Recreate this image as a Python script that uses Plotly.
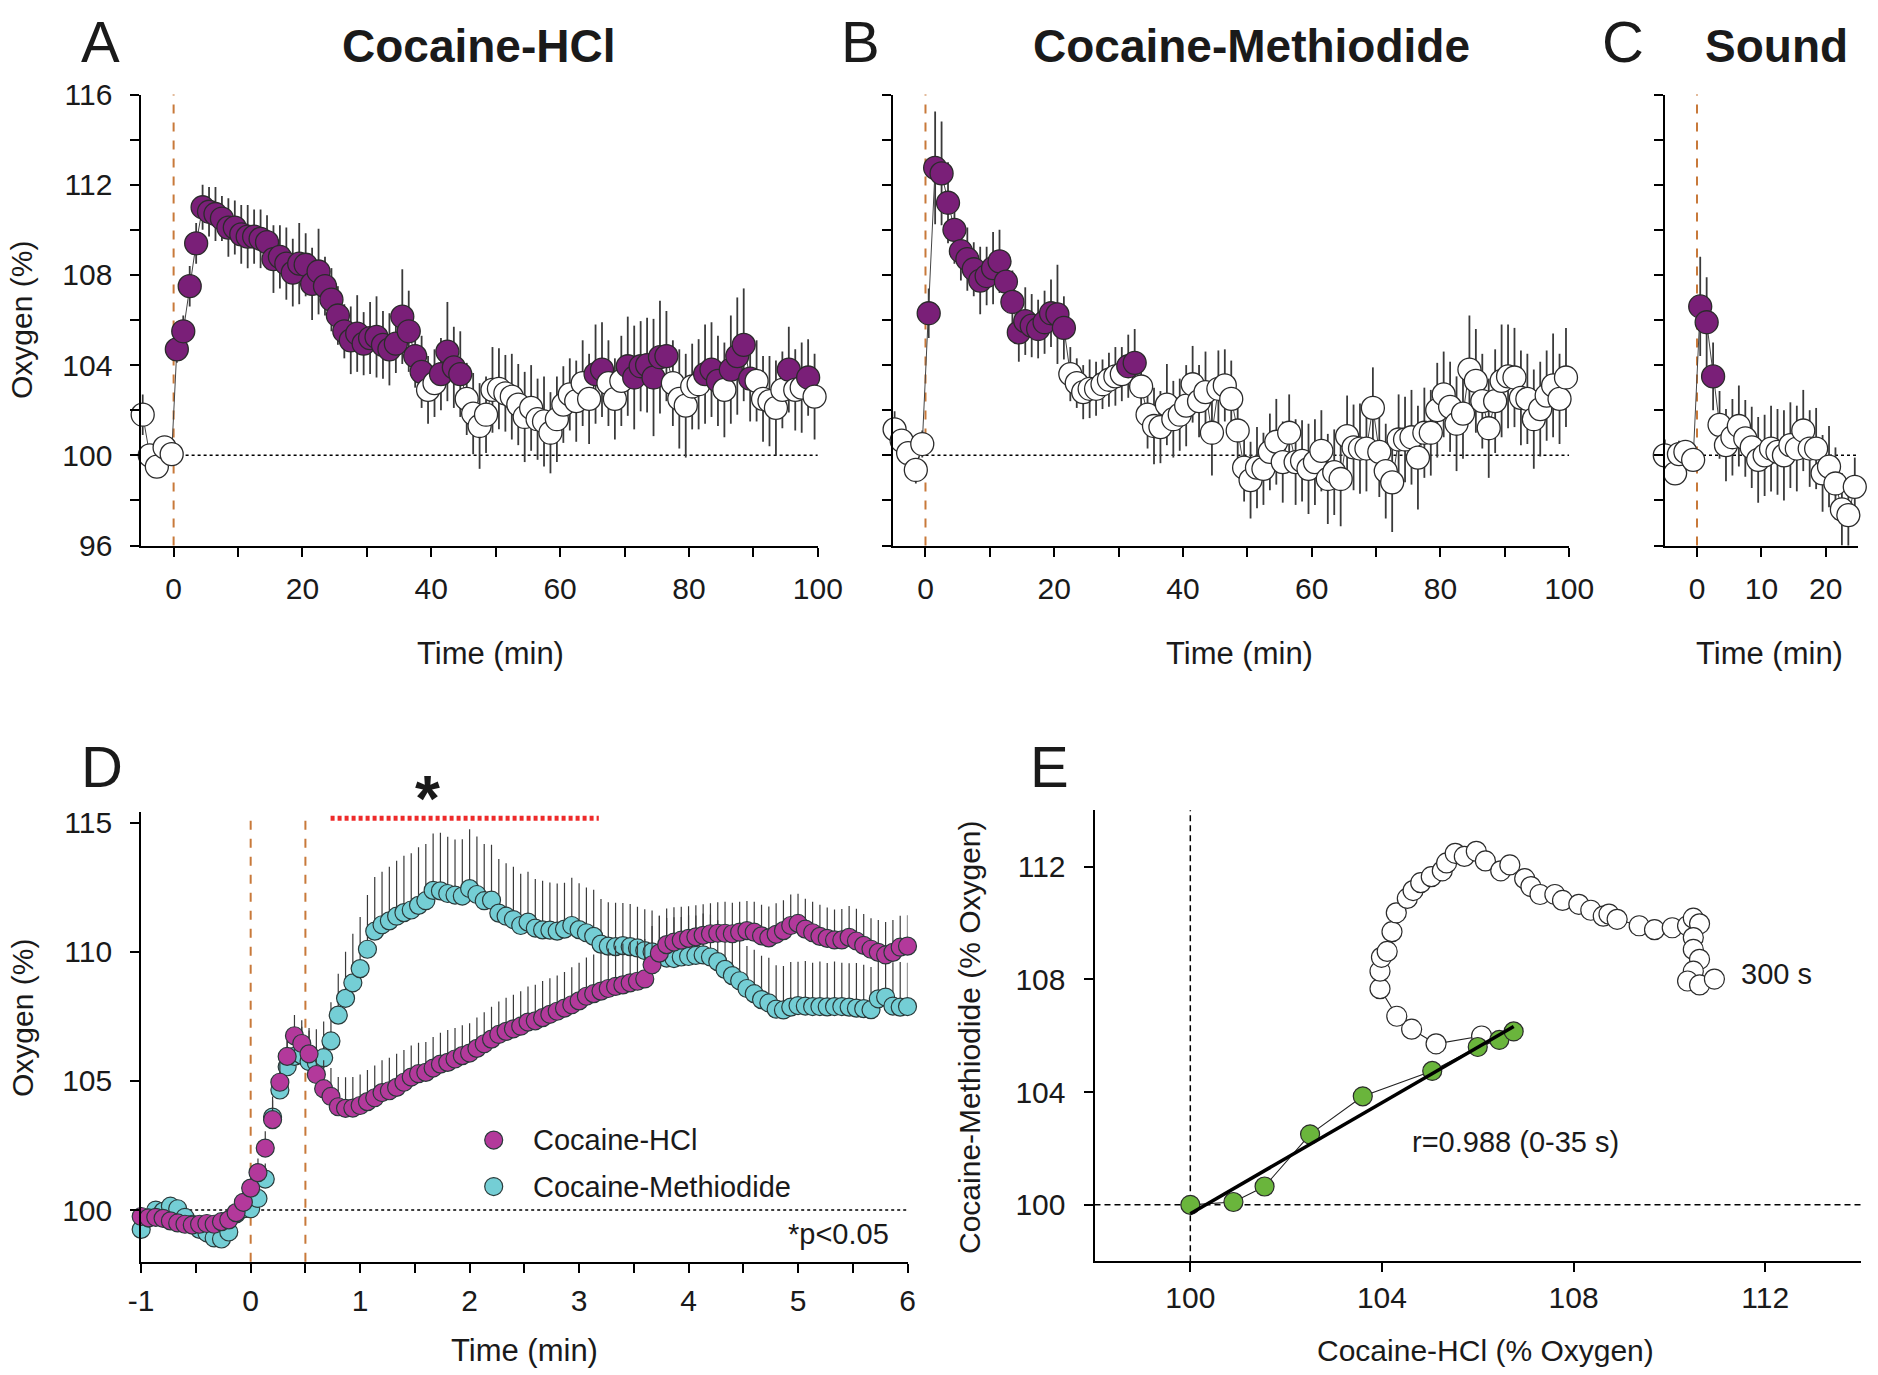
import plotly.graph_objects as go
import numpy as np

W, H = 1878, 1375
FONT = "Liberation Sans, Arial, Helvetica, sans-serif"
TXT = "#1a1a1a"

# ---------------- Panel A : Cocaine-HCl ----------------
A_TIME_PRE = [-4.8, -3.7, -2.6, -1.4, -0.3]
A_VAL_PRE = [101.8, 100.0, 99.5, 100.35, 100.05]
A_ERR_PRE = [0.9, 0.5, 0.5, 0.5, 0.4]
A_TIME_POST = [k + 0.5 for k in range(100)]
A_VAL_POST = [
    104.7, 105.5, 107.5, 109.4, 111.0, 110.8, 110.7, 110.5, 110.1, 110.1,
    109.8, 109.7, 109.7, 109.6, 109.45, 108.7, 108.8, 108.5, 108.1, 108.5,
    108.45, 107.6, 108.15, 107.5, 106.9, 106.2, 105.5, 105.1, 105.4, 104.95,
    105.2, 105.25, 104.9, 104.7, 104.95, 106.15, 105.5, 104.4, 103.7, 102.9,
    103.2, 103.6, 104.6, 103.9, 103.6, 102.5, 101.85, 101.3, 101.8, 102.9,
    102.95, 102.75, 102.6, 102.25, 101.7, 102.1, 101.6, 101.5, 101.0, 101.6,
    102.25, 102.7, 102.4, 103.2, 102.5, 103.6, 103.8, 103.2, 102.5, 103.3,
    103.95, 103.45, 103.95, 104.0, 103.45, 104.35, 104.4, 103.2, 102.5, 102.2,
    103.05, 103.15, 103.6, 103.8, 103.3, 102.9, 103.8, 104.4, 104.9, 103.4,
    103.3, 102.5, 102.4, 102.1, 102.9, 103.8, 102.9, 103.0, 103.45, 102.6]
A_ERR_POST = [
    0.6, 0.7, 0.9, 0.9, 1.0, 1.1, 1.2, 1.0, 1.3, 1.2,
    1.3, 1.4, 1.2, 1.3, 1.2, 1.5, 1.4, 1.6, 1.5, 1.8,
    1.4, 1.6, 1.9, 1.3, 1.4, 1.3, 1.2, 1.5, 1.7, 1.4,
    1.6, 1.8, 1.5, 1.6, 1.3, 2.1, 1.8, 1.4, 1.6, 1.5,
    1.5, 1.6, 2.2, 1.8, 1.9, 1.6, 1.8, 1.9, 1.7, 1.9,
    1.8, 1.7, 1.9, 1.8, 2.0, 1.9, 1.8, 2.0, 1.8, 1.9,
    1.7, 1.6, 1.8, 1.9, 2.0, 2.2, 2.1, 1.9, 1.8, 2.0,
    2.2, 2.3, 2.0, 2.1, 2.6, 2.5, 2.0, 1.9, 2.2, 2.3,
    1.9, 2.0, 2.2, 2.1, 2.0, 2.1, 2.4, 2.6, 2.5, 1.9,
    1.8, 1.9, 2.0, 2.1, 1.7, 1.9, 1.8, 2.0, 1.7, 1.9]
# 1 = significant (filled purple), 0 = not significant (open)
A_SIG_POST = (
    [1] * 39 + [0] * 2 + [1] * 4 + [0] * 20 + [1] * 2 + [0] * 3 + [1] * 7 +
    [0] * 5 + [1] * 3 + [0] + [1] * 4 + [0] * 5 + [1] + [0] * 2 + [1] + [0])

# ---------------- Panel B : Cocaine-Methiodide ----------------
B_TIME_PRE = [-4.8, -3.7, -2.7, -1.5, -0.5]
B_VAL_PRE = [101.15, 100.65, 100.1, 99.35, 100.5]
B_ERR_PRE = [0.8, 0.6, 0.6, 0.6, 0.6]
B_TIME_POST = [k + 0.5 for k in range(100)]
B_VAL_POST = [
    106.3, 112.75, 112.5, 111.2, 110.0, 109.05, 108.7, 108.25, 107.75, 107.95,
    108.3, 108.6, 107.7, 106.8, 105.45, 105.95, 105.75, 105.6, 105.9, 106.3,
    106.25, 105.65, 103.6, 103.2, 102.8, 102.95, 102.95, 103.15, 103.35, 103.5,
    103.6, 103.95, 104.1, 103.05, 101.8, 101.3, 101.25, 102.25, 101.6, 101.8,
    102.2, 103.15, 102.4, 102.8, 101.0, 102.95, 103.1, 102.5, 101.1, 99.45,
    98.9, 99.45, 99.4, 100.15, 100.6, 99.7, 101.0, 99.7, 99.75, 99.4,
    99.7, 100.2, 98.95, 99.25, 98.95, 100.85, 100.35, 100.3, 100.3, 102.1,
    100.15, 99.3, 98.8, 100.7, 100.7, 100.8, 99.9, 101.0, 101.0, 102.0,
    102.7, 102.15, 101.4, 101.85, 103.8, 103.3, 102.4, 101.2, 102.4, 103.3,
    103.5, 103.45, 102.55, 102.5, 101.6, 102.05, 102.65, 103.1, 102.5, 103.45]
B_ERR_POST = [
    1.1, 2.5, 2.3, 1.8, 1.5, 1.3, 1.4, 1.2, 1.5, 1.3,
    1.6, 1.4, 1.3, 1.4, 1.3, 1.5, 1.4, 1.3, 1.4, 1.5,
    2.2, 1.4, 1.2, 1.1, 1.2, 1.3, 1.2, 1.1, 1.2, 1.3,
    1.2, 1.4, 1.5, 1.4, 1.5, 1.7, 1.6, 1.8, 1.7, 1.6,
    1.8, 1.7, 1.6, 1.8, 1.9, 1.7, 1.6, 1.7, 1.6, 1.5,
    1.7, 1.8, 1.6, 1.7, 1.9, 1.8, 1.7, 1.9, 1.8, 2.0,
    1.9, 1.8, 2.0, 1.9, 2.1, 1.8, 1.9, 2.0, 1.9, 1.8,
    2.0, 2.1, 2.2, 2.0, 1.9, 2.1, 2.3, 2.0, 1.9, 2.1,
    1.9, 2.0, 2.1, 2.0, 2.4, 2.3, 2.1, 2.2, 2.3, 2.5,
    2.3, 2.2, 2.1, 2.0, 2.2, 2.1, 2.0, 2.3, 2.0, 2.2]
B_SIG_POST = [1] * 22 + [0] * 9 + [1] * 2 + [0] * 67

# ---------------- Panel C : Sound ----------------
C_TIME_PRE = [-5.0, -3.4, -2.8, -1.8, -0.6]
C_VAL_PRE = [100.0, 99.2, 100.05, 100.15, 99.8]
C_ERR_PRE = [0.7, 0.5, 0.6, 0.5, 0.5]
C_TIME_POST = [k + 0.5 for k in range(25)]
C_VAL_POST = [106.6, 105.9, 103.5, 101.35, 100.45, 100.8, 101.3, 100.75, 100.35, 99.8,
              100.0, 100.3, 100.15, 100.0, 100.45, 100.3, 101.1, 100.3, 100.3, 99.2,
              99.5, 98.75, 97.6, 97.35, 98.6]
C_ERR_POST = [2.2, 2.0, 1.5, 1.5, 1.6, 1.7, 1.8, 1.7, 1.8, 1.9,
              1.8, 1.9, 1.9, 2.0, 1.9, 1.9, 1.8, 1.7, 1.8, 1.7,
              1.8, 1.6, 1.6, 1.6, 1.3]
C_SIG_POST = [1] * 3 + [0] * 22

# ---------------- Panel D : 4-s bins, -1 .. 6 min ----------------
D_TIME = [round(-1 + k / 15, 4) for k in range(106)]
D_HCL = [
    99.75, 99.70, 99.72, 99.68, 99.58, 99.50, 99.45, 99.42, 99.45, 99.48,
    99.45, 99.55, 99.62, 99.90, 100.30, 100.85, 101.45, 102.40, 103.50, 104.95,
    105.95, 106.75, 106.45, 106.05, 105.25, 104.70, 104.40, 104.00, 103.94, 103.95,
    104.05, 104.20, 104.35, 104.55, 104.62, 104.75, 104.95, 105.15, 105.28, 105.33,
    105.50, 105.65, 105.72, 105.85, 105.98, 106.08, 106.26, 106.44, 106.62, 106.80,
    106.92, 107.02, 107.12, 107.28, 107.33, 107.45, 107.58, 107.70, 107.82, 107.95,
    108.10, 108.28, 108.38, 108.48, 108.58, 108.66, 108.72, 108.80, 108.86, 108.95,
    109.50, 109.95, 110.28, 110.38, 110.45, 110.52, 110.58, 110.64, 110.70, 110.72,
    110.72, 110.70, 110.76, 110.82, 110.76, 110.62, 110.54, 110.68, 110.82, 111.02,
    111.10, 110.88, 110.74, 110.60, 110.52, 110.46, 110.46, 110.56, 110.42, 110.25,
    110.10, 109.98, 109.88, 109.98, 110.18, 110.22]
D_HCL_ERR = [
    0.30, 0.28, 0.30, 0.32, 0.30, 0.28, 0.30, 0.30, 0.32, 0.30, 0.28, 0.30, 0.32, 0.35, 0.40,
    0.45, 0.55, 0.65, 0.75, 0.80, 0.85, 0.80, 0.90,
    1.00, 1.05, 1.10, 1.10, 1.15, 1.20, 1.20,
    1.20, 1.22, 1.25, 1.25, 1.28, 1.30, 1.25, 1.22, 1.20, 1.18, 1.20, 1.22, 1.25, 1.20,
    1.18, 1.15, 1.20, 1.22, 1.25, 1.28, 1.30, 1.32, 1.35,
    1.38, 1.40, 1.42, 1.40, 1.38, 1.40, 1.45, 1.48, 1.50, 1.52, 1.55, 1.55, 1.58, 1.60,
    1.58, 1.55, 1.55,
    1.50, 1.45, 1.40, 1.35, 1.30, 1.25, 1.22, 1.20, 1.18, 1.20, 1.22, 1.20, 1.18, 1.15,
    1.18, 1.20, 1.22, 1.20, 1.18, 1.20, 1.15, 1.18, 1.20, 1.22, 1.20, 1.18, 1.20, 1.22,
    1.25, 1.22, 1.20, 1.25, 1.28, 1.25, 1.22, 1.20]
D_METH = [
    99.25, 99.70, 100.00, 99.95, 100.15, 100.05, 99.72, 99.45, 99.25, 99.12,
    98.92, 98.88, 99.15, 99.85, 100.05, 100.05, 100.45, 101.20, 103.60, 104.65,
    105.55, 105.95, 106.00, 105.75, 105.70, 105.90, 106.55, 107.55, 108.20, 108.80,
    109.35, 110.10, 110.80, 111.05, 111.20, 111.38, 111.52, 111.62, 111.80, 111.98,
    112.38, 112.36, 112.26, 112.20, 112.16, 112.45, 112.22, 111.98, 112.00, 111.50,
    111.38, 111.25, 111.02, 111.15, 110.92, 110.85, 110.84, 110.80, 110.88, 111.02,
    110.86, 110.74, 110.60, 110.30, 110.22, 110.20, 110.24, 110.20, 110.15, 110.05,
    110.00, 109.85, 109.76, 109.74, 109.80, 109.82, 109.86, 109.88, 109.80, 109.62,
    109.32, 109.08, 108.88, 108.58, 108.38, 108.15, 108.02, 107.78, 107.75, 107.86,
    107.92, 107.90, 107.88, 107.88, 107.87, 107.88, 107.88, 107.86, 107.82, 107.80,
    107.76, 108.18, 108.25, 107.90, 107.86, 107.88]
D_METH_ERR = [
    0.28, 0.30, 0.32, 0.30, 0.28, 0.30, 0.30, 0.28, 0.30, 0.32, 0.30, 0.28, 0.30, 0.32, 0.35,
    0.40, 0.50, 0.60, 0.80, 0.90, 1.00, 1.00, 1.10,
    1.20, 1.30, 1.40, 1.50, 1.60, 1.80, 1.90,
    2.00, 2.10, 2.10, 2.05, 2.10, 2.15, 2.20, 2.20, 2.25, 2.20, 2.20, 2.25, 2.20, 2.15,
    2.20, 2.30, 2.25, 2.20, 2.15, 2.10, 2.05, 2.05, 2.00,
    1.95, 1.90, 1.90, 1.85, 1.85, 1.80, 1.85, 1.80, 1.75, 1.80, 1.75, 1.70, 1.70, 1.65,
    1.65, 1.60, 1.60,
    1.60, 1.55, 1.55, 1.60, 1.55, 1.60, 1.55, 1.60, 1.65, 1.60, 1.65, 1.70, 1.70, 1.65,
    1.70, 1.70, 1.75, 1.70, 1.70, 1.75, 1.70, 1.75, 1.70, 1.75, 1.70, 1.75, 1.70, 1.70,
    1.75, 1.70, 1.65, 1.70, 1.75, 1.70, 1.75, 1.70]
D_TICKS = [-1, 0, 1, 2, 3, 4, 5, 6]
D_TICK_TEXT = ["-1", "0", "1", "2", "3", "4", "5", "6"]

# ---------------- Panel E : HCl vs Methiodide ----------------
E_GREEN_HCL = [100.0, 100.9, 101.55, 102.5, 103.6, 105.05, 106.0, 106.45, 106.75]
E_GREEN_METH = [100.0, 100.1, 100.65, 102.5, 103.85, 104.75, 105.6, 105.85, 106.15]
E_WHITE_HCL = [
    106.08, 105.13, 104.62, 104.31, 103.96, 103.96, 103.99, 104.11, 104.21, 104.30,
    104.53, 104.65, 104.81, 105.03, 105.26, 105.35, 105.53, 105.72, 105.97, 106.16,
    106.48, 106.67, 106.98, 107.11, 107.30, 107.61, 107.77, 108.11, 108.36, 108.62,
    108.74, 108.91, 109.37, 109.69, 110.06, 110.38, 110.50, 110.63, 110.50, 110.50,
    110.63, 110.50, 110.38, 110.63, 110.94]
E_WHITE_METH = [
    105.99, 105.71, 106.23, 106.69, 107.67, 108.29, 108.78, 108.99, 109.69, 110.36,
    110.87, 111.15, 111.43, 111.64, 111.85, 112.13, 112.47, 112.36, 112.54, 112.20,
    111.85, 112.06, 111.57, 111.29, 111.01, 111.01, 110.80, 110.66, 110.45, 110.24,
    110.31, 110.13, 109.90, 109.76, 109.83, 109.90, 110.17, 109.97, 109.48, 109.06,
    108.71, 108.29, 107.94, 107.80, 108.01]

# ---------------- styling ----------------
PURPLE = "#7A1F78"
MAGENTA = "#B3399B"
CYAN = "#74CED5"
GREEN = "#6AB53C"
EDGE = "#2b2b2b"
ORANGE = "#C8793A"


def px_x(p):
    return p / W


def px_y(p):
    return 1 - p / H


fig = go.Figure()


def timecourse(xa, ya, t_pre, v_pre, e_pre, t_post, v_post, e_post, sig_post):
    t = list(t_pre) + list(t_post)
    v = list(v_pre) + list(v_post)
    e = list(e_pre) + list(e_post)
    sig = [0] * len(t_pre) + list(sig_post)
    colors = [PURPLE if s else "white" for s in sig]
    fig.add_trace(go.Scatter(
        x=t, y=v, mode="lines+markers", xaxis=xa, yaxis=ya,
        line=dict(color="#444", width=1),
        marker=dict(size=23, color=colors, line=dict(color=EDGE, width=1.3)),
        error_y=dict(type="data", array=e, visible=True, color="#3a3a3a",
                     thickness=1.8, width=0),
        cliponaxis=False, hoverinfo="skip"))


timecourse("x", "y", A_TIME_PRE, A_VAL_PRE, A_ERR_PRE, A_TIME_POST, A_VAL_POST, A_ERR_POST, A_SIG_POST)
timecourse("x2", "y2", B_TIME_PRE, B_VAL_PRE, B_ERR_PRE, B_TIME_POST, B_VAL_POST, B_ERR_POST, B_SIG_POST)
timecourse("x3", "y3", C_TIME_PRE, C_VAL_PRE, C_ERR_PRE, C_TIME_POST, C_VAL_POST, C_ERR_POST, C_SIG_POST)

# Panel D
for vals, errs, col in [(D_METH, D_METH_ERR, CYAN), (D_HCL, D_HCL_ERR, MAGENTA)]:
    fig.add_trace(go.Scatter(
        x=D_TIME, y=vals, mode="markers", xaxis="x4", yaxis="y4",
        marker=dict(size=18, color=col, line=dict(color="#2a3a3a", width=1.2)),
        error_y=dict(type="data", symmetric=False, array=errs, arrayminus=[0] * len(errs),
                     visible=True, color="#3a3a3a", thickness=1.2, width=0),
        cliponaxis=False, hoverinfo="skip"))
# legend symbols for D (placed in data space of D)
LEG_X = 2.22
LEG_Y = [102.71, 100.91]
fig.add_trace(go.Scatter(
    x=[LEG_X, LEG_X], y=LEG_Y, mode="markers", xaxis="x4", yaxis="y4",
    marker=dict(size=18, color=[MAGENTA, CYAN], line=dict(color="#2a3a3a", width=1.2)),
    hoverinfo="skip"))

# Panel E
fig.add_trace(go.Scatter(
    x=E_WHITE_HCL, y=E_WHITE_METH, mode="lines+markers", xaxis="x5", yaxis="y5",
    line=dict(color="#222", width=1.1),
    marker=dict(size=20, color="white", line=dict(color=EDGE, width=1.2)),
    cliponaxis=False, hoverinfo="skip"))
fig.add_trace(go.Scatter(
    x=E_GREEN_HCL, y=E_GREEN_METH, mode="lines+markers", xaxis="x5", yaxis="y5",
    line=dict(color="#222", width=1.1),
    marker=dict(size=19, color=GREEN, line=dict(color=EDGE, width=1.2)),
    cliponaxis=False, hoverinfo="skip"))
slope, icpt = np.polyfit(E_GREEN_HCL, E_GREEN_METH, 1)
fx = [min(E_GREEN_HCL), max(E_GREEN_HCL)]
fig.add_trace(go.Scatter(
    x=fx, y=[slope * v + icpt for v in fx], mode="lines", xaxis="x5", yaxis="y5",
    line=dict(color="black", width=3.5), hoverinfo="skip"))

# ---------------- axes ----------------
TICKFONT = dict(family=FONT, size=30, color=TXT)


def axis(domain, rng, tick0, dtick, minor=None, labels=True, standoff=12):
    d = dict(domain=domain, range=rng, tick0=tick0, dtick=dtick, showline=True,
             linecolor="black", linewidth=2, ticks="outside", ticklen=9, tickwidth=2,
             tickcolor="black", showgrid=False, zeroline=False, tickfont=TICKFONT,
             showticklabels=labels, ticklabelstandoff=standoff, fixedrange=True,
             automargin=False)
    if minor is not None:
        d["minor"] = dict(ticks="outside", ticklen=9, tickwidth=2, tickcolor="black",
                          dtick=minor, tick0=tick0, showgrid=False)
    return d


top_yd = [px_y(545.5), px_y(94.5)]
xaxis4 = axis([px_x(141.2), px_x(907.5)], [-1, 6], -1, 1, minor=0.5, standoff=2)
xaxis4.update(tickmode="array", tickvals=D_TICKS, ticktext=D_TICK_TEXT)
fig.update_layout(
    xaxis=axis([px_x(141.4), px_x(817.8)], [-5, 100], 0, 20, minor=10, standoff=6),
    yaxis=axis(top_yd, [96, 116], 96, 4, minor=2),
    xaxis2=axis([px_x(893.3), px_x(1569.2)], [-5, 100], 0, 20, minor=10, standoff=6),
    yaxis2=axis(top_yd, [96, 116], 96, 4, minor=2, labels=False),
    xaxis3=axis([px_x(1664.8), px_x(1858.0)], [-5, 25], 0, 10, standoff=6),
    yaxis3=axis(top_yd, [96, 116], 96, 4, minor=2, labels=False),
    xaxis4=xaxis4,
    yaxis4=axis([px_y(1261.7), px_y(812.4)], [98, 115.4], 100, 5),
    xaxis5=axis([px_x(1094.5), px_x(1861.0)], [98, 114], 100, 4, standoff=0),
    yaxis5=axis([px_y(1261.2), px_y(810.2)], [98, 114], 100, 4),
)
for i in ["", "2", "3", "4", "5"]:
    fig.layout["xaxis" + i].anchor = "y" + i
    fig.layout["yaxis" + i].anchor = "x" + i

# ---------------- shapes ----------------
shapes = []
for xr, yr, xend in [("x", "y", 100), ("x2", "y2", 100), ("x3", "y3", 25)]:
    shapes.append(dict(type="line", xref=xr, yref=yr, x0=0, x1=xend, y0=100, y1=100,
                       line=dict(color="black", width=1.5, dash="dot"), layer="below"))
    shapes.append(dict(type="line", xref=xr, yref=yr + " domain", x0=0, x1=0, y0=0, y1=1,
                       line=dict(color=ORANGE, width=2, dash="dash"), layer="below"))
shapes.append(dict(type="line", xref="x4", yref="y4", x0=-1, x1=6, y0=100, y1=100,
                   line=dict(color="black", width=1.5, dash="dot"), layer="below"))
for xv in [0, 0.5]:
    shapes.append(dict(type="line", xref="x4", yref="y4 domain", x0=xv, x1=xv, y0=0, y1=1,
                       line=dict(color=ORANGE, width=2, dash="dash"), layer="below"))
shapes.append(dict(type="line", xref="x4", yref="y4", x0=0.73, x1=3.18, y0=115.17, y1=115.17,
                   line=dict(color="#EE2B2B", width=5, dash="4px,3px"), layer="above"))
shapes.append(dict(type="line", xref="x5", yref="y5", x0=98, x1=114, y0=100, y1=100,
                   line=dict(color="black", width=1.5, dash="6px,4px"), layer="below"))
shapes.append(dict(type="line", xref="x5", yref="y5 domain", x0=100, x1=100, y0=0, y1=1,
                   line=dict(color="black", width=1.5, dash="6px,4px"), layer="below"))
fig.update_layout(shapes=shapes)

# ---------------- text ----------------
anns = []


def ann(text, xp, yp, size, bold=False, angle=0, xanchor="center"):
    anns.append(dict(text=("<b>%s</b>" % text) if bold else text, x=px_x(xp), y=px_y(yp),
                     xref="paper", yref="paper", showarrow=False, textangle=angle,
                     xanchor=xanchor, yanchor="middle",
                     font=dict(family=FONT, size=size, color=TXT)))


# panel letters & titles
ann("A", 100.6, 42, 58)
ann("Cocaine-HCl", 478, 46, 46, bold=True)
ann("B", 860, 42, 58)
ann("Cocaine-Methiodide", 1251.6, 46, 46, bold=True)
ann("C", 1623, 42, 58)
ann("Sound", 1776, 46, 46, bold=True)
ann("D", 101.8, 767, 58)
ann("E", 1049, 767, 58)
# axis titles
ann("Oxygen (%)", 22, 320, 30, angle=-90)
ann("Time (min)", 490, 653, 31)
ann("Time (min)", 1239.6, 653, 31)
ann("Time (min)", 1769, 653, 31)
ann("Oxygen (%)", 22, 1018, 30, angle=-90)
ann("Time (min)", 524.6, 1350, 31)
ann("Cocaine-Methiodide (% Oxygen)", 969, 1037, 30, angle=-90)
ann("Cocaine-HCl (% Oxygen)", 1485, 1350, 30)
# asterisk
ann("*", 427, 799, 64, bold=True)


def dann(text, x, y, xr, yr, size, xanchor="left"):
    anns.append(dict(text=text, x=x, y=y, xref=xr, yref=yr, showarrow=False,
                     xanchor=xanchor, yanchor="middle",
                     font=dict(family=FONT, size=size, color=TXT)))


dann("Cocaine-HCl", 2.56, LEG_Y[0], "x4", "y4", 29)
dann("Cocaine-Methiodide", 2.56, LEG_Y[1], "x4", "y4", 29)
dann("*p<0.05", 5.85, 99.08, "x4", "y4", 29, xanchor="right")
dann("300 s", 111.45, 108.18, "x5", "y5", 29)
dann("r=0.988 (0-35 s)", 104.59, 102.23, "x5", "y5", 29)

fig.update_layout(
    annotations=anns, width=W, height=H, margin=dict(l=0, r=0, t=0, b=0, pad=0),
    paper_bgcolor="white", plot_bgcolor="white", showlegend=False,
    font=dict(family=FONT, color=TXT))

fig.write_html(
    "out.html",
    config={"displayModeBar": False, "staticPlot": True},
    post_script=("document.body.style.margin='0';document.body.style.padding='0';"
                 "document.documentElement.style.margin='0';"
                 "document.documentElement.style.overflow='hidden';"))
